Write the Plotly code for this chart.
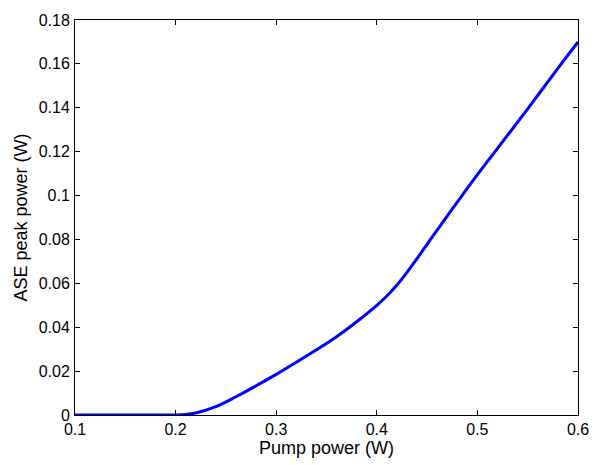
import plotly.graph_objects as go

pump_power = [0.10, 0.15, 0.20, 0.21, 0.22, 0.24, 0.26, 0.28, 0.30, 0.32, 0.34, 0.36,
              0.38, 0.40, 0.41, 0.42, 0.43, 0.44, 0.45, 0.46, 0.48, 0.50, 0.52, 0.55, 0.58, 0.60]
ase_peak = [0.0, 0.0, 0.0, 0.0002, 0.0009, 0.0038, 0.0083, 0.0133, 0.0185, 0.0240, 0.0297,
            0.0357, 0.0425, 0.0500, 0.0542, 0.0592, 0.0650, 0.0713, 0.0778, 0.0843, 0.0970,
            0.1095, 0.1215, 0.1395, 0.1580, 0.1700]

x_ticks = [0.1, 0.2, 0.3, 0.4, 0.5, 0.6]
x_ticktext = ["0.1", "0.2", "0.3", "0.4", "0.5", "0.6"]
y_ticks = [0, 0.02, 0.04, 0.06, 0.08, 0.1, 0.12, 0.14, 0.16, 0.18]
y_ticktext = ["0", "0.02", "0.04", "0.06", "0.08", "0.1", "0.12", "0.14", "0.16", "0.18"]

fig = go.Figure()
fig.add_trace(go.Scatter(x=pump_power, y=ase_peak, mode="lines",
                         line=dict(color="#0000ff", width=3, shape="spline", smoothing=1.0),
                         showlegend=False))

axis_common = dict(showline=True, linecolor="black", linewidth=1, mirror="ticks",
                   ticks="inside", ticklen=5, tickcolor="black", showgrid=False,
                   zeroline=False, tickfont=dict(family="Liberation Sans, Arial", size=16, color="black"))

fig.update_layout(
    width=601, height=465,
    margin=dict(l=75, r=20, t=17, b=48),
    paper_bgcolor="white", plot_bgcolor="white",
    font=dict(family="Liberation Sans, Arial", size=16, color="black"),
    xaxis=dict(range=[0.1, 0.6], tickvals=x_ticks, ticktext=x_ticktext, ticklabelstandoff=0,
               title=dict(text="Pump power (W)", standoff=2, font=dict(size=18)), **axis_common),
    yaxis=dict(range=[0, 0.18], tickvals=y_ticks, ticktext=y_ticktext, ticklabelstandoff=1,
               title=dict(text="ASE peak power (W)", standoff=6, font=dict(size=18)), **axis_common),
)

fig.write_html("out.html")
